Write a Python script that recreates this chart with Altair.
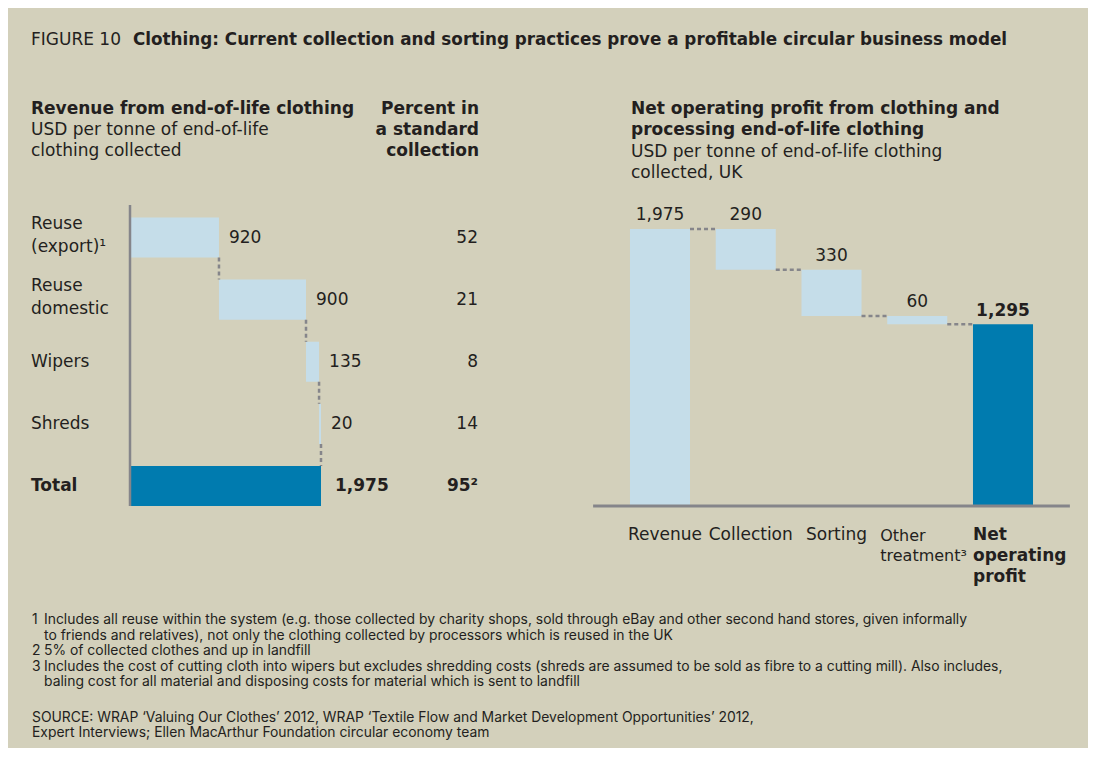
import altair as alt
import pandas as pd

# ---------------- data ----------------
left_categories = ["Reuse\n(export)¹", "Reuse\ndomestic", "Wipers", "Shreds", "Total"]
left_values = [920, 900, 135, 20]
left_total = 1975
left_percent = ["52", "21", "8", "14", "95²"]

right_steps = ["Revenue", "Collection", "Sorting", "Other\ntreatment³", "Net\noperating\nprofit"]
right_changes = [1975, -290, -330, -60]
right_net = 1295

# ---------------- style ----------------
BG = "#d3d0bb"
LIGHT = "#c5dde9"
DARK = "#007baf"
INK = "#231f20"
GRAY = "#85858a"
MAIN = "DejaVu Sans"
NARROW = "Inter"
FSZ = 17
OFF = 8  # page margin

# ---------------- derived tables ----------------
rows = []
cum = 0
for i, v in enumerate(left_values):
    rows.append(dict(idx=i, start=cum, end=cum + v, label=f"{v:,}", kind="step"))
    cum += v
rows.append(dict(idx=len(left_values), start=0, end=left_total, label=f"{left_total:,}", kind="total"))
left = pd.DataFrame(rows)
left["cat"] = left_categories
left["pct"] = left_percent
left["multi"] = left["cat"].str.contains("\n")
left["y0"] = left["idx"] - 0.322
left["y1"] = left["idx"] + 0.322
lconn = pd.DataFrame(dict(x=left["end"][:-1].values,
                          ya=(left["idx"][:-1] + 0.322).values,
                          yb=(left["idx"][1:] - 0.322).values))

rrows = []
cum = 0
for i, v in enumerate(right_changes):
    rrows.append(dict(idx=i, start=cum, end=cum + v, label=f"{abs(v):,}", kind="step"))
    cum += v
rrows.append(dict(idx=len(right_changes), start=0, end=right_net, label=f"{right_net:,}", kind="total"))
right = pd.DataFrame(rrows)
right["step"] = right_steps
right["top"] = right[["start", "end"]].max(axis=1)
right["x0"] = right["idx"] - 0.35
right["x1"] = right["idx"] + 0.35
rconn = pd.DataFrame(dict(y=right["end"][:-1].values,
                          xa=(right["idx"][:-1] + 0.35).values,
                          xb=(right["idx"][1:] - 0.35).values))

# ---------------- scales ----------------
lx = alt.Scale(domain=[0, 1975], range=[130 - OFF, 321 - OFF], zero=False, nice=False)
ly = alt.Scale(domain=[0, 4], range=[237.5 - OFF, 486 - OFF], zero=False, nice=False)
rx = alt.Scale(domain=[0, 4], range=[660 - OFF, 1003 - OFF], zero=False, nice=False)
ry = alt.Scale(domain=[0, 1975], range=[506 - OFF, 229 - OFF], zero=False, nice=False)

def X(f, s):
    return alt.X(f, type="quantitative", scale=s, axis=None)

def Y(f, s):
    return alt.Y(f, type="quantitative", scale=s, axis=None)

one = pd.DataFrame({"k": [0]})

def label(text, x, y, size=FSZ, weight="normal", align="left", font=MAIN, color=INK):
    return alt.Chart(one).mark_text(align=align, baseline="middle", fontSize=size,
                                    fontWeight=weight, font=font, color=color).encode(
        x=alt.value(x - OFF), y=alt.value(y - OFF), text=alt.value(text))

def tmark(**kw):
    base = dict(baseline="middle", fontSize=FSZ, font=MAIN, color=INK)
    base.update(kw)
    return base

layers = []

# ---- left waterfall ----
L = alt.Chart(left)
layers.append(L.mark_rect().encode(
    x=X("start", lx), x2="end", y=Y("y0", ly), y2="y1",
    color=alt.condition("datum.kind == 'total'", alt.value(DARK), alt.value(LIGHT))))
layers.append(alt.Chart(lconn).mark_rule(color=GRAY, strokeWidth=2.5, strokeDash=[4, 3]).encode(
    x=X("x", lx), y=Y("ya", ly), y2="yb"))
layers.append(alt.Chart(one).mark_rule(color=GRAY, strokeWidth=2.5).encode(
    x=alt.X(datum=0, type="quantitative", scale=lx, axis=None),
    y=alt.Y(datum=-0.523, type="quantitative", scale=ly, axis=None),
    y2=alt.datum(4.322)))
layers.append(L.transform_filter("datum.kind == 'step'").mark_text(
    **tmark(align="left", dx=10)).encode(
    x=X("end", lx), y=Y("idx", ly), text="label:N"))
layers.append(L.transform_filter("datum.kind == 'total'").mark_text(
    **tmark(align="left", dx=14, fontWeight="bold")).encode(
    x=X("end", lx), y=Y("idx", ly), text="label:N"))
layers.append(L.transform_filter("datum.kind == 'step'").mark_text(
    **tmark(align="right")).encode(
    x=alt.value(478 - OFF), y=Y("idx", ly), text="pct:N"))
layers.append(L.transform_filter("datum.kind == 'total'").mark_text(
    **tmark(align="right", fontWeight="bold")).encode(
    x=alt.value(478 - OFF), y=Y("idx", ly), text="pct:N"))
layers.append(L.transform_filter("datum.multi").mark_text(
    **tmark(align="left", dy=-14, lineBreak="\n", lineHeight=23)).encode(
    x=alt.value(31 - OFF), y=Y("idx", ly), text="cat:N"))
layers.append(L.transform_filter("!datum.multi && datum.kind == 'step'").mark_text(
    **tmark(align="left")).encode(
    x=alt.value(31 - OFF), y=Y("idx", ly), text="cat:N"))
layers.append(L.transform_filter("datum.kind == 'total'").mark_text(
    **tmark(align="left", fontWeight="bold")).encode(
    x=alt.value(31 - OFF), y=Y("idx", ly), text="cat:N"))

# ---- right waterfall ----
R = alt.Chart(right)
layers.append(R.mark_rect().encode(
    x=X("x0", rx), x2="x1", y=Y("start", ry), y2="end",
    color=alt.condition("datum.kind == 'total'", alt.value(DARK), alt.value(LIGHT))))
layers.append(alt.Chart(rconn).mark_rule(color=GRAY, strokeWidth=2.5, strokeDash=[4, 3]).encode(
    y=Y("y", ry), x=X("xa", rx), x2="xb"))
layers.append(alt.Chart(one).mark_rule(color=GRAY, strokeWidth=3).encode(
    y=alt.Y(datum=0, type="quantitative", scale=ry, axis=None),
    x=alt.X(datum=-0.78, type="quantitative", scale=rx, axis=None),
    x2=alt.datum(4.78)))
layers.append(R.transform_filter("datum.kind == 'step'").mark_text(
    **tmark(align="center", dy=-14)).encode(
    x=X("idx", rx), y=Y("top", ry), text="label:N"))
layers.append(R.transform_filter("datum.kind == 'total'").mark_text(
    **tmark(align="center", dy=-13, fontWeight="bold")).encode(
    x=X("idx", rx), y=Y("top", ry), text="label:N"))
layers.append(R.transform_filter("datum.idx <= 2").mark_text(
    **tmark(align="center", baseline="top", dx=5)).encode(
    x=X("idx", rx), y=alt.value(527 - OFF), text="step:N"))
layers.append(R.transform_filter("datum.idx == 3").mark_text(
    **tmark(align="left", baseline="top", dx=-7, lineBreak="\n", lineHeight=20, fontSize=16)).encode(
    x=X("x0", rx), y=alt.value(528 - OFF), text="step:N"))
layers.append(R.transform_filter("datum.idx == 4").mark_text(
    **tmark(align="left", baseline="top", lineBreak="\n", lineHeight=21, fontWeight="bold")).encode(
    x=X("x0", rx), y=alt.value(527 - OFF), text="step:N"))

# ---- headings ----
layers.append(label("FIGURE 10", 31, 40))
layers.append(label("Clothing: Current collection and sorting practices prove a profitable circular business model",
                    133, 40, weight="bold", size=16.8))
layers.append(label("Revenue from end-of-life clothing", 31, 109, weight="bold"))
layers.append(label("USD per tonne of end-of-life", 31, 130))
layers.append(label("clothing collected", 31, 151))
layers.append(label("Percent in", 479, 109, weight="bold", align="right"))
layers.append(label("a standard", 479, 130, weight="bold", align="right"))
layers.append(label("collection", 479, 151, weight="bold", align="right"))
layers.append(label("Net operating profit from clothing and", 631, 109, weight="bold"))
layers.append(label("processing end-of-life clothing", 631, 130, weight="bold"))
layers.append(label("USD per tonne of end-of-life clothing", 631, 152))
layers.append(label("collected, UK", 631, 173))

# ---- footnotes ----
FS = 13.9
notes = [
    ("1", "Includes all reuse within the system (e.g. those collected by charity shops, sold through eBay and other second hand stores, given informally", 620),
    ("", "to friends and relatives), not only the clothing collected by processors which is reused in the UK", 636),
    ("2", "5% of collected clothes and up in landfill", 651),
    ("3", "Includes the cost of cutting cloth into wipers but excludes shredding costs (shreds are assumed to be sold as fibre to a cutting mill). Also includes,", 667),
    ("", "baling cost for all material and disposing costs for material which is sent to landfill", 682),
]
for num, txt, yy in notes:
    if num:
        layers.append(label(num, 32, yy, size=FS, font=NARROW))
    layers.append(label(txt, 44, yy, size=FS, font=NARROW))
layers.append(label("SOURCE: WRAP ‘Valuing Our Clothes’ 2012, WRAP ‘Textile Flow and Market Development Opportunities’ 2012,",
                    32, 718, size=FS, font=NARROW))
layers.append(label("Expert Interviews; Ellen MacArthur Foundation circular economy team", 32, 733, size=FS, font=NARROW))

chart = alt.layer(*layers).resolve_scale(x="independent", y="independent").properties(
    width=1080, height=740, background=BG, padding=0,
    autosize=alt.AutoSizeParams(type="none"),
).configure_view(stroke=None)

chart.save("out.html", embed_options={"renderer": "svg", "actions": False})
